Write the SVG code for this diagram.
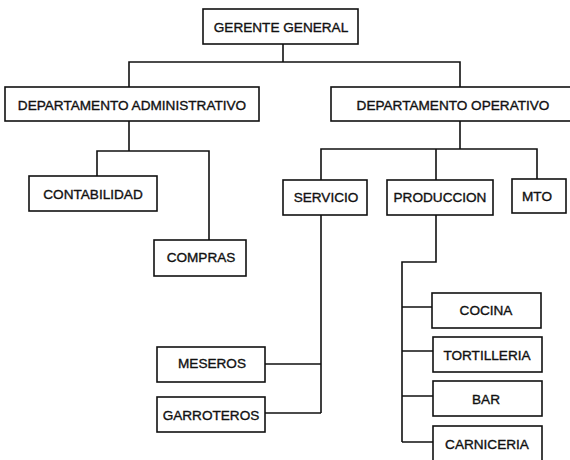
<svg xmlns="http://www.w3.org/2000/svg" width="570" height="460" viewBox="0 0 570 460">
<style>
rect{fill:#fff;stroke:#111;stroke-width:1.6}
text{font-family:"Liberation Sans",Arial,sans-serif;font-size:13.6px;fill:#111;stroke:#111;stroke-width:0.35;text-anchor:middle}
#connectors path{fill:none;stroke:#111;stroke-width:1.6}
</style>
<rect x="0" y="0" width="570" height="460" style="fill:#fff;stroke:none"/>
<g id="connectors">
<path d="M283 44V62M129 87V62H460V87"/>
<path d="M129 121V151M97 176V151H209V240"/>
<path d="M460 121V149M321 180V149H537V179M436 149V180"/>
<path d="M321 215V413M265 364H321M265 413H321"/>
<path d="M436 215V262H402V442M402 307H432M402 351H433M402 396H433M402 442H433"/>
</g>
<g id="gerente"><rect x="203" y="9" width="155" height="35"/><text x="281" y="32">GERENTE GENERAL</text></g>
<g id="admin"><rect x="5" y="87" width="254" height="34"/><text x="132" y="110">DEPARTAMENTO ADMINISTRATIVO</text></g>
<g id="operativo"><rect x="331" y="87" width="241" height="34"/><text x="453" y="110">DEPARTAMENTO OPERATIVO</text></g>
<g id="contabilidad"><rect x="29" y="176" width="128" height="35"/><text x="93" y="199">CONTABILIDAD</text></g>
<g id="compras"><rect x="154" y="240" width="92" height="36"/><text x="201" y="262">COMPRAS</text></g>
<g id="servicio"><rect x="283" y="180" width="84" height="35"/><text x="326" y="202">SERVICIO</text></g>
<g id="produccion"><rect x="387" y="180" width="106" height="35"/><text x="440" y="202">PRODUCCION</text></g>
<g id="mto"><rect x="512" y="179" width="54" height="34"/><text x="537" y="201">MTO</text></g>
<g id="meseros"><rect x="157" y="347" width="108" height="35"/><text x="212" y="368">MESEROS</text></g>
<g id="garroteros"><rect x="157" y="397" width="108" height="35"/><text x="211" y="420">GARROTEROS</text></g>
<g id="cocina"><rect x="432" y="293" width="109" height="35"/><text x="486" y="315">COCINA</text></g>
<g id="tortilleria"><rect x="433" y="337" width="109" height="35"/><text x="487" y="360">TORTILLERIA</text></g>
<g id="bar"><rect x="433" y="381" width="109" height="35"/><text x="486" y="404">BAR</text></g>
<g id="carniceria"><rect x="433" y="426" width="109" height="40"/><text x="487" y="449">CARNICERIA</text></g>
</svg>
